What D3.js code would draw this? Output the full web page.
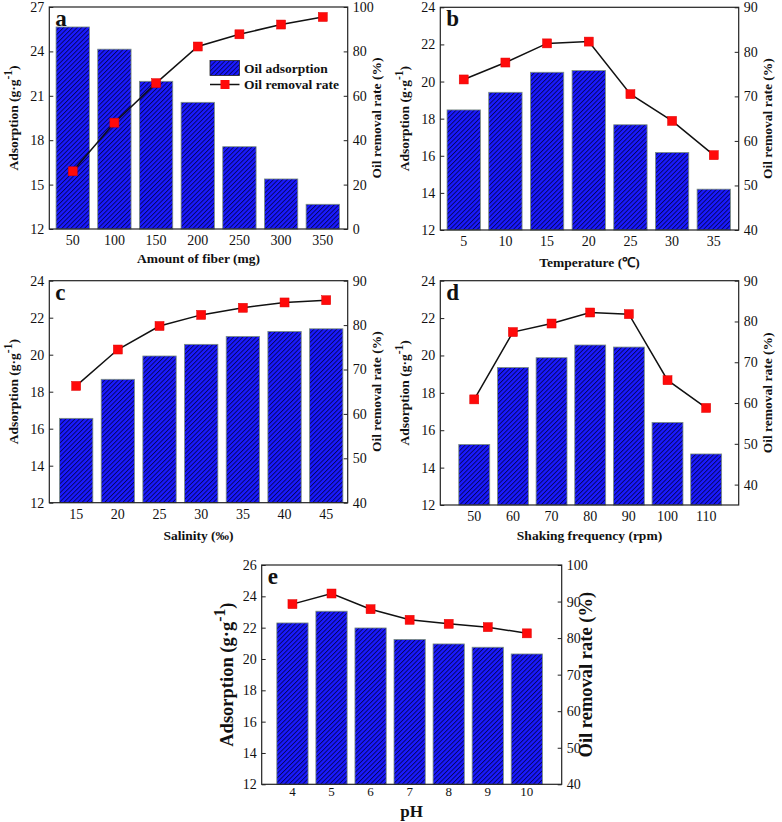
<!DOCTYPE html>
<html><head><meta charset="utf-8">
<script src="https://cdn.jsdelivr.net/npm/d3@7"></script>
<style>body{margin:0;background:#fff}svg{display:block}</style>
</head><body>
<svg id="chart" width="782" height="822"></svg>
<script>
// ---- data ----
const fiberCats = ["50","100","150","200","250","300","350"];
const fiberAdsorption = [25.65, 24.15, 21.98, 20.56, 17.56, 15.38, 13.67];
const fiberRemoval = [26.0, 47.9, 65.7, 82.2, 87.7, 92.1, 95.5];

const tempCats = ["5","10","15","20","25","30","35"];
const tempAdsorption = [18.47, 19.42, 20.5, 20.59, 17.67, 16.18, 14.2];
const tempRemoval = [73.8, 77.6, 81.9, 82.3, 70.5, 64.5, 56.8];

const salCats = ["15","20","25","30","35","40","45"];
const salAdsorption = [16.56, 18.67, 19.93, 20.56, 20.99, 21.26, 21.4];
const salRemoval = [66.3, 74.5, 79.8, 82.3, 83.9, 85.1, 85.6];

const shakeCats = ["50","60","70","80","90","100","110"];
const shakeAdsorption = [15.24, 19.36, 19.88, 20.56, 20.45, 16.42, 14.73];
const shakeRemoval = [60.9, 77.4, 79.5, 82.2, 81.8, 65.6, 58.8];

const phCats = ["4","5","6","7","8","9","10"];
const phAdsorption = [22.3, 23.05, 21.98, 21.25, 20.96, 20.75, 20.32];
const phRemoval = [89.3, 92.2, 87.9, 85.0, 83.9, 83.0, 81.3];

const leftTicksA = [12,15,18,21,24,27];
const rightTicksA = [0,20,40,60,80,100];
const leftTicksBCD = [12,14,16,18,20,22,24];
const rightTicksBCD = [40,50,60,70,80,90];
const leftTicksE = [12,14,16,18,20,22,24,26];
const rightTicksE = [40,50,60,70,80,90,100];

const svg = d3.select("#chart");
const FONT = "'Liberation Serif','Times New Roman',serif";

const defs = svg.append("defs");
const pat = defs.append("pattern").attr("id","hatch").attr("patternUnits","userSpaceOnUse")
  .attr("width",3.2).attr("height",3.2).attr("patternTransform","rotate(45)");
pat.append("rect").attr("width",3.2).attr("height",3.2).attr("fill","#1a1aff");
pat.append("line").attr("x1",0.5).attr("y1",0).attr("x2",0.5).attr("y2",3.2)
  .attr("stroke","#000046").attr("stroke-width",0.8);

const panels = [
  {letter:"a", cats:fiberCats, bars:fiberAdsorption, rate:fiberRemoval, x0:49.3, x1:347.7, y0:7, y1:229,
   ld:[12,27], lt:leftTicksA, rd:[0,100], rt:rightTicksA, po:0.18, al:0.45, xlabel:"Amount of fiber (mg)",
   lx:18, rx:381, xly:263, tfs:13.5, legend:true},
  {letter:"b", cats:tempCats, bars:tempAdsorption, rate:tempRemoval, x0:440.3, x1:738.7, y0:7.3, y1:230,
   ld:[12,24], lt:leftTicksBCD, rd:[40,90], rt:rightTicksBCD, po:0.18, al:0.45, xlabel:"Temperature (℃)",
   lx:409, rx:772, xly:267, tfs:13.5},
  {letter:"c", cats:salCats, bars:salAdsorption, rate:salRemoval, x0:49.3, x1:347.7, y0:280.7, y1:502.7,
   ld:[12,24], lt:leftTicksBCD, rd:[40,90], rt:rightTicksBCD, po:0.18, al:0.68, xlabel:"Salinity (‰)",
   lx:18, rx:381, xly:540, tfs:13.5},
  {letter:"d", cats:shakeCats, bars:shakeAdsorption, rate:shakeRemoval, x0:440.3, x1:738.7, y0:280.7, y1:505,
   ld:[12,24], lt:leftTicksBCD, rd:[35,90], rt:rightTicksBCD, po:0.46, al:0.52, xlabel:"Shaking frequency (rpm)",
   lx:409, rx:772, xly:540, tfs:13.5},
  {letter:"e", cats:phCats, bars:phAdsorption, rate:phRemoval, x0:261.7, x1:561.7, y0:565, y1:784.3,
   ld:[12,26], lt:leftTicksE, rd:[40,100], rt:rightTicksE, po:0.44, al:0.44, xlabel:"pH",
   lx:233, rx:592, xly:817, tfs:18.5, big:true}
];

panels.forEach(p => {
  const g = svg.append("g");
  const x = d3.scaleBand().domain(p.cats).range([p.x0, p.x1]).paddingInner(0.2).paddingOuter(p.po).align(p.al);
  const yl = d3.scaleLinear().domain(p.ld).range([p.y1, p.y0]);
  const yr = d3.scaleLinear().domain(p.rd).range([p.y1, p.y0]);

  // bars
  g.selectAll("rect.bar").data(p.bars).join("rect").attr("class","bar")
    .attr("x",(d,i)=>x(p.cats[i])).attr("width",x.bandwidth())
    .attr("y",d=>yl(d)).attr("height",d=>p.y1-yl(d))
    .attr("fill","url(#hatch)").attr("stroke","#7d907d").attr("stroke-width",0.8);

  // line + markers
  const line = d3.line().x((d,i)=>x(p.cats[i])+x.bandwidth()/2).y(d=>yr(d));
  g.append("path").attr("d",line(p.rate)).attr("fill","none").attr("stroke","#111").attr("stroke-width",1.5);
  g.selectAll("rect.mk").data(p.rate).join("rect").attr("class","mk")
    .attr("x",(d,i)=>x(p.cats[i])+x.bandwidth()/2-4.5).attr("y",d=>yr(d)-4.5)
    .attr("width",9).attr("height",9).attr("fill","#ff0a0a").attr("stroke","#e00000").attr("stroke-width",0.5);

  // frame
  g.append("rect").attr("x",p.x0).attr("y",p.y0).attr("width",p.x1-p.x0).attr("height",p.y1-p.y0)
    .attr("fill","none").attr("stroke","#222").attr("stroke-width",1.2);

  // left axis (inward ticks)
  const la = g.append("g").attr("transform",`translate(${p.x0},0)`)
    .call(d3.axisLeft(yl).tickValues(p.lt).tickSize(-4).tickPadding(5).tickFormat(d3.format("d")));
  la.select(".domain").remove();
  la.selectAll("text").attr("font-family",FONT).attr("font-size",14).attr("fill","#111");
  la.selectAll("line").attr("stroke","#222");
  // right axis
  const ra = g.append("g").attr("transform",`translate(${p.x1},0)`)
    .call(d3.axisRight(yr).tickValues(p.rt).tickSize(-4).tickPadding(5).tickFormat(d3.format("d")));
  ra.select(".domain").remove();
  ra.selectAll("text").attr("font-family",FONT).attr("font-size",14).attr("fill","#111");
  ra.selectAll("line").attr("stroke","#222");
  // bottom axis (labels only)
  const ba = g.append("g").attr("transform",`translate(0,${p.y1})`)
    .call(d3.axisBottom(x).tickSize(0).tickPadding(p.big?2:6));
  ba.select(".domain").remove();
  ba.selectAll("text").attr("font-family",FONT).attr("font-size",p.big?13:14).attr("fill","#111");

  // panel letter
  g.append("text").attr("x",p.x0+6).attr("y",p.y0+19).text(p.letter)
    .attr("font-family",FONT).attr("font-weight","bold").attr("font-size",23).attr("fill","#111");

  const cy = (p.y0+p.y1)/2;
  // left title
  const lt = g.append("text").attr("transform",`translate(${p.lx},${cy}) rotate(-90)`)
    .attr("text-anchor","middle").attr("font-family",FONT).attr("font-weight","bold")
    .attr("font-size",p.tfs).attr("fill","#111");
  lt.append("tspan").text("Adsorption (g·g");
  lt.append("tspan").attr("baseline-shift","super").attr("font-size",p.tfs*0.85).text("-1");
  lt.append("tspan").text(")");
  // right title
  g.append("text").attr("transform",`translate(${p.rx},${cy}) rotate(-90)`)
    .attr("text-anchor","middle").attr("font-family",FONT).attr("font-weight","bold")
    .attr("font-size",p.tfs).attr("fill","#111").text("Oil removal rate (%)");
  // x title
  g.append("text").attr("x",(p.x0+p.x1)/2).attr("y",p.xly).attr("text-anchor","middle")
    .attr("font-family",FONT).attr("font-weight","bold").attr("font-size",p.big?17:13.5)
    .attr("fill","#111").text(p.xlabel);

  if (p.legend) {
    const lg = g.append("g");
    lg.append("rect").attr("x",210).attr("y",60.5).attr("width",29.5).attr("height",15)
      .attr("fill","url(#hatch)").attr("stroke","#222").attr("stroke-width",0.8);
    lg.append("text").attr("x",244).attr("y",72.5).text("Oil adsorption")
      .attr("font-family",FONT).attr("font-weight","bold").attr("font-size",13.5).attr("fill","#111");
    lg.append("line").attr("x1",210).attr("x2",239.5).attr("y1",84.5).attr("y2",84.5)
      .attr("stroke","#111").attr("stroke-width",1.5);
    lg.append("rect").attr("x",220.5).attr("y",80).attr("width",9).attr("height",9).attr("fill","#ff0a0a");
    lg.append("text").attr("x",244).attr("y",89).text("Oil removal rate")
      .attr("font-family",FONT).attr("font-weight","bold").attr("font-size",13.5).attr("fill","#111");
  }
});
</script>
</body></html>
